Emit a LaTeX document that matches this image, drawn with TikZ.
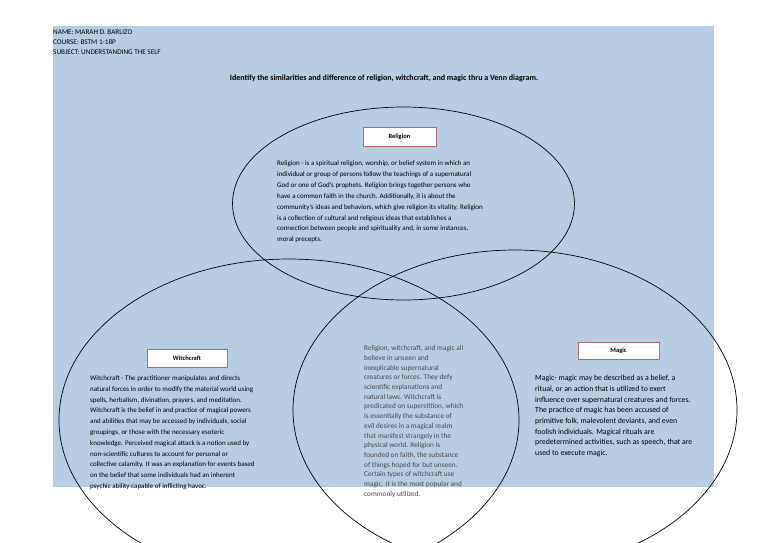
\documentclass[tikz,border=0pt]{standalone}
\usepackage{fontspec}
\setmainfont{Carlito}
\usetikzlibrary{positioning}
\definecolor{sheetblue}{HTML}{B8CCE4}
\definecolor{tagred}{HTML}{B06A6A}
\definecolor{midgrey}{HTML}{4A4A4A}

\begin{document}
\begin{tikzpicture}[x=1pt,y=-1pt,
  tag/.style={draw=tagred,fill=white,line width=0.8pt,inner sep=0pt,font=\fontsize{6.5}{8}\selectfont\bfseries},
  body/.style={align=left,inner sep=0pt,anchor=north west,font=\fontsize{7}{10.9}\selectfont},
  venn/.style={draw=black,line width=0.7pt}]
  \clip (0,0) rectangle (768,542);
  \useasboundingbox (0,0) rectangle (768,542);
  \fill[white] (0,0) rectangle (768,542);
  \fill[sheetblue] (53,26) rectangle (714,487);
  % header and question
  \node[body,font=\fontsize{7.2}{10}\selectfont] (header) at (53,30)
    {NAME: MARAH D. BARLIZO\\COURSE: BSTM 1-18P\\SUBJECT: UNDERSTANDING THE SELF};
  \node[inner sep=0pt,font=\fontsize{8}{9}\selectfont\bfseries] (question) at (384,78)
    {Identify the similarities and difference of religion, witchcraft, and magic thru a Venn diagram.};
  % the three sets
  \draw[venn] (403.5,203.5) ellipse [x radius=171pt,y radius=96.5pt];
  \draw[venn] (289,420) ellipse [x radius=230pt,y radius=161pt];
  \draw[venn] (515,410) ellipse [x radius=222pt,y radius=160pt];
  % religion
  \node[tag,minimum width=73pt,minimum height=19pt] (religion) at (399.5,136.5) {Religion};
  \node[body] (religiontext) at (277,160.5)
    {Religion - is a spiritual religion, worship, or belief system in which an\\
     individual or group of persons follow the teachings of a supernatural\\
     God or one of God's prophets. Religion brings together persons who\\
     have a common faith in the church. Additionally, it is about the\\
     community's ideas and behaviors, which give religion its vitality. Religion\\
     is a collection of cultural and religious ideas that establishes a\\
     connection between people and spirituality and, in some instances,\\
     moral precepts.};
  % witchcraft
  \node[tag,minimum width=80pt,minimum height=18pt] (witchcraft) at (187,358) {Witchcraft};
  \node[body,font=\fontsize{7}{10.8}\selectfont] (witchcrafttext) at (90,375.5)
    {Witchcraft - The practitioner manipulates and directs\\
     natural forces in order to modify the material world using\\
     spells, herbalism, divination, prayers, and meditation.\\
     Witchcraft is the belief in and practice of magical powers\\
     and abilities that may be accessed by individuals, social\\
     groupings, or those with the necessary esoteric\\
     knowledge. Perceived magical attack is a notion used by\\
     non-scientific cultures to account for personal or\\
     collective calamity. It was an explanation for events based\\
     on the belief that some individuals had an inherent\\
     psychic ability capable of inflicting havoc.};
  % shared ground
  \node[body,text=midgrey,font=\fontsize{7.3}{9.7}\selectfont] (common) at (364,345.5)
    {Religion, witchcraft, and magic all\\
     believe in unseen and\\
     inexplicable supernatural\\
     creatures or forces. They defy\\
     scientific explanations and\\
     natural laws. Witchcraft is\\
     predicated on superstition, which\\
     is essentially the substance of\\
     evil desires in a magical realm\\
     that manifest strangely in the\\
     physical world. Religion is\\
     founded on faith, the substance\\
     of things hoped for but unseen.\\
     Certain types of witchcraft use\\
     magic. It is the most popular and\\
     commonly utilized.};
  % magic
  \node[tag,minimum width=81pt,minimum height=17pt] (magic) at (618.5,350.5) {Magic};
  \node[body,font=\fontsize{7.8}{10.7}\selectfont] (magictext) at (535,375)
    {Magic- magic may be described as a belief, a\\
     ritual, or an action that is utilized to exert\\
     influence over supernatural creatures and forces.\\
     The practice of magic has been accused of\\
     primitive folk, malevolent deviants, and even\\
     foolish individuals. Magical rituals are\\
     predetermined activities, such as speech, that are\\
     used to execute magic.};
\end{tikzpicture}
\end{document}
